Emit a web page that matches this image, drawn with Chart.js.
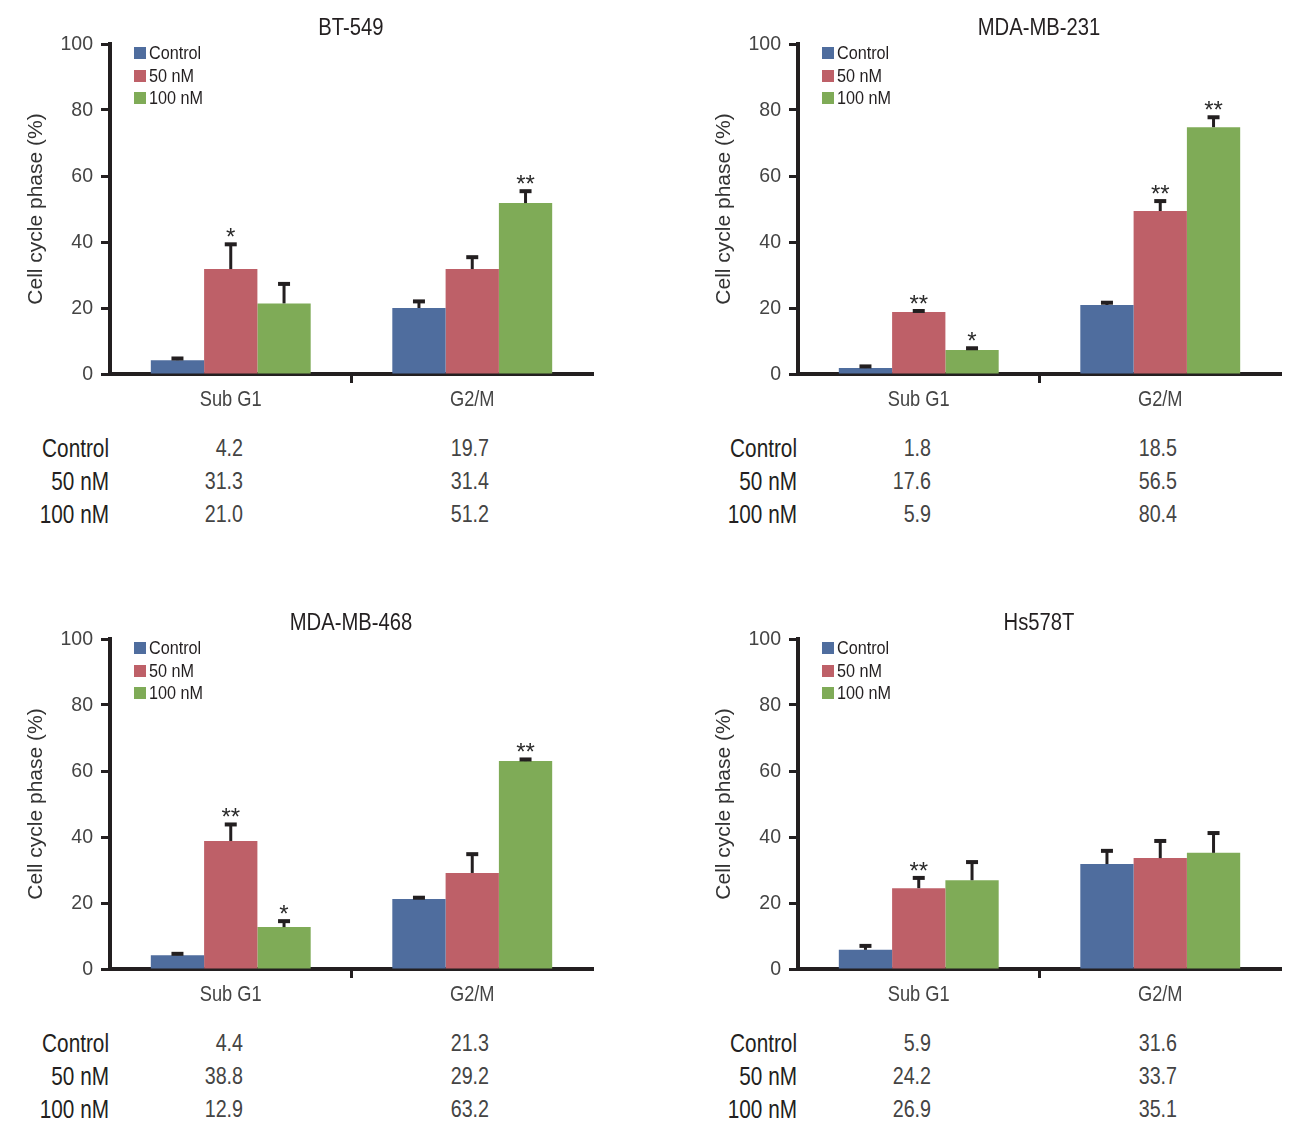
<!DOCTYPE html>
<html>
<head>
<meta charset="utf-8">
<script src="https://cdn.jsdelivr.net/npm/chart.js@4.4.1/dist/chart.umd.min.js"></script>
<style>
  body { margin: 0; background: #fff; }
  #wrap { position: relative; width: 1296px; height: 1138px; overflow: hidden; }
  .panel { position: absolute; width: 640px; height: 540px; }
  .panel canvas { position: absolute; left: 0; top: 0; }
  .txt { position: absolute; white-space: nowrap; font-family: "Liberation Sans", Arial, sans-serif; }
</style>
</head>
<body>
<div id="wrap"></div>
<script>
// ── Data ────────────────────────────────────────────────
const categories = ['Sub G1', 'G2/M'];
const seriesNames = ['Control', '50 nM', '100 nM'];
const seriesColors = ['#4f6d9e', '#be6068', '#7fab57'];
const yTicks = [0, 20, 40, 60, 80, 100];
const panelTitles = ['BT-549', 'MDA-MB-231', 'MDA-MB-468', 'Hs578T'];

// bar heights, one row per series (Control, 50 nM, 100 nM)
const bt549Means = [[4.2, 20.0], [31.8, 31.8], [21.4, 51.8]];
const mda231Means = [[1.8, 20.9], [18.8, 49.4], [7.3, 74.8]];
const mda468Means = [[4.2, 21.2], [38.8, 29.1], [12.7, 63.0]];
const hs578tMeans = [[5.8, 31.8], [24.5, 33.6], [26.9, 35.2]];

// upper error bar lengths
const bt549Errors = [[0.5, 2.0], [7.5, 3.6], [5.9, 3.6]];
const mda231Errors = [[0.5, 0.7], [0.3, 3.0], [0.5, 3.0]];
const mda468Errors = [[0.4, 0.4], [5.0, 5.7], [1.8, 0.5]];
const hs578tErrors = [[1.2, 4.0], [3.1, 5.2], [5.5, 6.0]];

// significance marks
const bt549Stars = [['', ''], ['*', ''], ['', '**']];
const mda231Stars = [['', ''], ['**', '**'], ['*', '**']];
const mda468Stars = [['', ''], ['**', ''], ['*', '**']];
const hs578tStars = [['', ''], ['**', ''], ['', '']];

// value tables printed under each chart
const bt549Table = [['4.2', '19.7'], ['31.3', '31.4'], ['21.0', '51.2']];
const mda231Table = [['1.8', '18.5'], ['17.6', '56.5'], ['5.9', '80.4']];
const mda468Table = [['4.4', '21.3'], ['38.8', '29.2'], ['12.9', '63.2']];
const hs578tTable = [['5.9', '31.6'], ['24.2', '33.7'], ['26.9', '35.1']];

const panels = [
  { title: panelTitles[0], means: bt549Means, errors: bt549Errors, stars: bt549Stars, table: bt549Table, x: 0, y: 0 },
  { title: panelTitles[1], means: mda231Means, errors: mda231Errors, stars: mda231Stars, table: mda231Table, x: 688, y: 0 },
  { title: panelTitles[2], means: mda468Means, errors: mda468Errors, stars: mda468Stars, table: mda468Table, x: 0, y: 595 },
  { title: panelTitles[3], means: hs578tMeans, errors: hs578tErrors, stars: hs578tStars, table: hs578tTable, x: 688, y: 595 },
];

// ── Style ───────────────────────────────────────────────
// no narrow face installed: squash Liberation Sans horizontally instead
const sans = '"Liberation Sans", Arial, sans-serif';
const axisColor = '#231f20';
const labelGray = '#444444';

function squashText(ctx, text, x, y, sx, align) {
  ctx.save();
  ctx.translate(x, y);
  ctx.scale(sx, 1);
  ctx.textAlign = align;
  ctx.fillText(text, 0, 0);
  ctx.restore();
}

// tick labels drawn narrow at the scale's own tick positions
const narrowTicksPlugin = {
  id: 'narrowTicks',
  afterDraw(chart) {
    const { ctx, scales: { x, y } } = chart;
    ctx.save();
    ctx.fillStyle = labelGray;
    ctx.textBaseline = 'middle';
    ctx.font = '21px ' + sans;
    yTicks.forEach((v) => {
      squashText(ctx, String(v), y.right - 17, y.getPixelForValue(v), 0.93, 'right');
    });
    ctx.font = '22px ' + sans;
    categories.forEach((c, i) => {
      squashText(ctx, c, x.getPixelForTick(i), x.top + 26, 0.83, 'center');
    });
    ctx.restore();
  },
};

// error bars + asterisks, drawn from each bar element and the y scale
const errorBarPlugin = {
  id: 'errorBars',
  afterDatasetsDraw(chart) {
    const { ctx, scales: { y } } = chart;
    const { errors, stars } = chart.options.plugins.errorBars;
    ctx.save();
    chart.data.datasets.forEach((ds, di) => {
      const meta = chart.getDatasetMeta(di);
      meta.data.forEach((bar, i) => {
        const v = ds.data[i];
        const top = y.getPixelForValue(v);
        const capY = y.getPixelForValue(v + errors[di][i]);
        ctx.strokeStyle = axisColor;
        ctx.lineWidth = 3;
        ctx.beginPath();
        ctx.moveTo(bar.x, top);
        ctx.lineTo(bar.x, capY);
        ctx.stroke();
        ctx.lineWidth = 4;
        ctx.beginPath();
        ctx.moveTo(bar.x - 6, capY);
        ctx.lineTo(bar.x + 6, capY);
        ctx.stroke();
        const s = stars[di][i];
        if (s) {
          ctx.fillStyle = '#2a2a2a';
          ctx.font = '24px ' + sans;
          ctx.textAlign = 'center';
          ctx.textBaseline = 'alphabetic';
          ctx.fillText(s, bar.x, capY + 1);
        }
      });
    });
    ctx.restore();
  },
};

function addText(parent, text, css, sx, origin) {
  const d = document.createElement('div');
  d.className = 'txt';
  d.textContent = text;
  Object.assign(d.style, css);
  d.style.transform = 'scaleX(' + sx + ')';
  d.style.transformOrigin = origin + ' center';
  parent.appendChild(d);
  return d;
}

function buildPanel(p) {
  const wrap = document.getElementById('wrap');
  const el = document.createElement('div');
  el.className = 'panel';
  el.style.left = p.x + 'px';
  el.style.top = p.y + 'px';
  wrap.appendChild(el);

  const canvas = document.createElement('canvas');
  canvas.width = 620;
  canvas.height = 420;
  el.appendChild(canvas);

  // title
  addText(el, p.title, { left: '0px', width: '702px', textAlign: 'center', top: '13px',
    fontSize: '23px', lineHeight: '28px', color: axisColor }, 0.88, 'center');

  // legend
  seriesNames.forEach((name, i) => {
    const cy = 53 + i * 22.5;
    const sq = document.createElement('div');
    Object.assign(sq.style, { position: 'absolute', left: '134px', top: (cy - 6) + 'px',
      width: '12px', height: '12px', background: seriesColors[i] });
    el.appendChild(sq);
    addText(el, name, { left: '149px', top: (cy - 11) + 'px', fontSize: '18px',
      lineHeight: '22px', color: axisColor }, 0.9, 'left');
  });

  // value table
  seriesNames.forEach((name, i) => {
    const cy = 448 + i * 33;
    addText(el, name, { left: '0px', width: '109px', textAlign: 'right', top: (cy - 15) + 'px',
      fontSize: '25px', lineHeight: '30px', color: axisColor }, 0.83, 'right');
    addText(el, p.table[i][0], { left: '143px', width: '100px', textAlign: 'right', top: (cy - 15) + 'px',
      fontSize: '24px', lineHeight: '30px', color: labelGray }, 0.82, 'right');
    addText(el, p.table[i][1], { left: '389px', width: '100px', textAlign: 'right', top: (cy - 15) + 'px',
      fontSize: '24px', lineHeight: '30px', color: labelGray }, 0.82, 'right');
  });

  new Chart(canvas, {
    type: 'bar',
    data: {
      labels: categories,
      datasets: seriesNames.map((name, i) => ({
        label: name,
        data: p.means[i],
        backgroundColor: seriesColors[i],
        borderWidth: 0,
        categoryPercentage: 0.662,
        barPercentage: 1,
      })),
    },
    options: {
      responsive: false,
      animation: false,
      layout: { padding: { left: 0, right: 27, top: 44, bottom: 0 } },
      plugins: {
        legend: { display: false },
        tooltip: { enabled: false },
        errorBars: { errors: p.errors, stars: p.stars },
      },
      scales: {
        x: {
          grid: {
            offset: true,
            drawOnChartArea: false,
            drawTicks: true,
            tickLength: 9,
            tickWidth: 3,
            tickColor: (c) => (c.index === 1 ? axisColor : 'rgba(0,0,0,0)'),
          },
          border: { display: true, color: axisColor, width: 4 },
          ticks: { display: false },
          afterFit: (s) => { s.height = 46; },
        },
        y: {
          min: 0,
          max: 100,
          afterBuildTicks: (s) => { s.ticks = yTicks.map((v) => ({ value: v })); },
          ticks: { display: false },
          grid: { drawOnChartArea: false, drawTicks: true, tickLength: 9, tickWidth: 3, tickColor: axisColor },
          border: { display: true, color: axisColor, width: 4 },
          title: {
            display: true,
            text: 'Cell cycle phase (%)',
            color: '#333333',
            font: { family: sans, size: 21 },
            padding: { top: 24, bottom: 0 },
          },
          afterFit: (s) => { s.width = 110; },
        },
      },
    },
    plugins: [errorBarPlugin, narrowTicksPlugin],
  });
}

panels.forEach(buildPanel);
</script>
</body>
</html>
